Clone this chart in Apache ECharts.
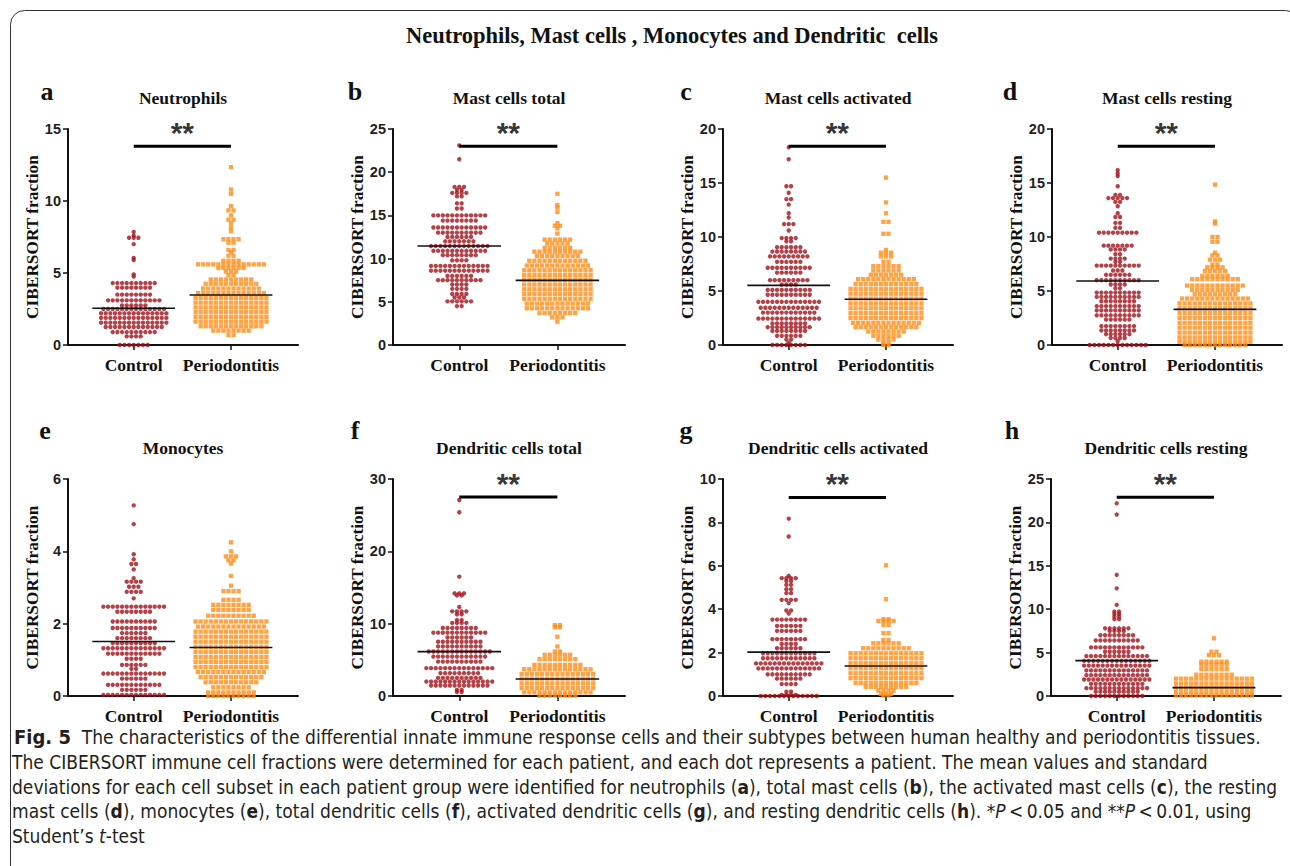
<!DOCTYPE html>
<html><head><meta charset="utf-8">
<script src="https://cdn.jsdelivr.net/npm/echarts@6.0.0/dist/echarts.min.js"></script>
<style>html,body{margin:0;padding:0;background:#fff;}#c{width:1290px;height:866px;}</style>
</head><body><div id="c"></div>
<script>
// ---------------- data ----------------
const categories = ['Control', 'Periodontitis'];
const mainTitle = 'Neutrophils, Mast cells , Monocytes and Dendritic  cells';
const panelLetters = ['a', 'b', 'c', 'd', 'e', 'f', 'g', 'h'];
const panelTitles = ['Neutrophils', 'Mast cells total', 'Mast cells activated', 'Mast cells resting',
  'Monocytes', 'Dendritic cells total', 'Dendritic cells activated', 'Dendritic cells resting'];
const yAxisName = 'CIBERSORT fraction';
const yMax = [15, 25, 20, 20, 6, 30, 10, 25];
const yStep = [5, 5, 5, 5, 2, 10, 2, 5];

// each row: [CIBERSORT fraction, number of patients at that level]
const neutrophilsControl = [[7.85,1],[7.6,1],[7.45,3],[7.0,1],[6.05,1],[5.9,1],[4.9,1],[4.75,1],[4.3,10],[3.98,8],[3.5,8],[3.1,12],[2.75,6],[2.5,14],[2.2,15],[1.88,15],[1.55,15],[1.25,13],[0.9,10],[0.6,4],[0,7]];
const neutrophilsPerio = [[12.35,1],[10.8,1],[10.5,1],[9.65,1],[9.35,2],[9.0,1],[8.7,2],[8.45,1],[8.15,1],[7.9,1],[7.35,4],[7.1,2],[6.6,2],[6.45,1],[6.2,2],[5.85,4],[5.6,14],[5.35,6],[5.1,3],[4.85,2],[4.55,9],[4.25,11],[3.92,12],[3.6,14],[3.27,15],[2.94,15],[2.61,15],[2.28,15],[1.95,15],[1.62,15],[1.3,13],[1.0,8],[0.7,2]];
const mastTotalControl = [[23.1,1],[21.5,1],[18.3,3],[17.95,2],[17.6,4],[17.2,2],[16.4,2],[15.8,2],[15.0,12],[14.4,8],[13.6,12],[13.0,10],[12.5,6],[12.0,7],[11.45,13],[10.9,12],[10.4,8],[9.8,4],[9.15,13],[8.6,13],[8.0,6],[7.5,10],[7.0,4],[6.5,4],[5.9,4],[5.5,3],[5.05,6],[4.5,2]];
const mastTotalPerio = [[17.5,1],[16.2,1],[15.9,1],[15.4,1],[14.1,1],[13.8,2],[13.5,1],[12.9,1],[12.2,6],[11.75,5],[11.25,6],[10.8,10],[10.3,9],[9.75,12],[9.2,13],[8.65,14],[8.1,14],[7.55,14],[7.0,14],[6.45,14],[5.9,14],[5.35,14],[4.8,13],[4.25,13],[3.7,8],[3.2,3],[2.7,1]];
const mastActControl = [[18.3,1],[17.2,1],[14.7,2],[14.1,1],[13.5,2],[13.0,1],[12.2,1],[11.8,1],[11.2,3],[10.6,1],[9.9,4],[9.6,2],[9.05,6],[8.65,8],[8.2,9],[7.7,6],[7.15,10],[6.7,6],[6.0,9],[5.6,4],[5.1,10],[4.65,10],[4.0,14],[3.45,13],[3.0,12],[2.45,14],[2.0,8],[1.65,10],[1.3,8],[0.85,6],[0.5,2],[0.2,1],[0,8]];
const mastActPerio = [[15.5,1],[13.2,1],[12.2,1],[11.4,2],[10.3,2],[8.8,1],[8.55,3],[8.2,3],[7.7,2],[7.3,6],[6.9,6],[6.5,7],[6.1,12],[5.65,13],[5.2,15],[4.75,15],[4.3,15],[3.85,15],[3.4,15],[2.95,15],[2.5,15],[2.05,14],[1.65,13],[1.25,8],[0.85,6],[0.5,4],[0.15,2],[0,2]];
const mastRestControl = [[16.2,1],[15.9,1],[15.65,1],[14.7,1],[13.9,2],[13.6,5],[13.25,2],[12.85,1],[12.2,1],[11.85,2],[11.3,2],[10.85,2],[10.4,9],[9.2,7],[8.85,4],[8.4,2],[8.0,4],[7.7,2],[7.35,10],[6.9,3],[6.5,6],[6.0,10],[5.6,4],[5.25,2],[4.85,10],[4.45,10],[4.05,8],[3.6,10],[3.2,10],[2.75,10],[2.35,6],[1.75,8],[1.35,8],[1.0,6],[0.65,4],[0.35,1],[0,13]];
const mastRestPerio = [[14.85,1],[11.45,1],[11.25,1],[10.0,2],[9.55,2],[8.55,1],[8.3,2],[7.9,3],[7.45,2],[7.2,4],[6.85,5],[6.4,6],[6.1,10],[5.5,12],[5.1,10],[4.7,9],[4.3,14],[3.85,15],[3.4,15],[2.95,15],[2.5,15],[2.05,15],[1.6,15],[1.15,15],[0.7,15],[0.3,15],[0,13]];
const monocytesControl = [[5.27,1],[4.75,1],[3.92,1],[3.78,1],[3.65,2],[3.5,1],[3.26,1],[3.16,4],[3.02,3],[2.88,4],[2.7,1],[2.47,14],[2.33,8],[2.06,10],[1.88,10],[1.74,6],[1.6,8],[1.46,10],[1.32,14],[1.17,12],[1.03,4],[0.86,6],[0.75,2],[0.62,14],[0.48,6],[0.31,12],[0.17,6],[0.03,14]];
const monocytesPerio = [[4.25,1],[4.0,1],[3.86,3],[3.75,2],[3.66,1],[3.32,1],[3.05,1],[2.9,4],[2.66,4],[2.52,8],[2.38,8],[2.22,10],[2.06,15],[1.92,14],[1.78,15],[1.64,15],[1.5,15],[1.36,15],[1.22,15],[1.08,15],[0.94,15],[0.8,15],[0.66,14],[0.52,13],[0.38,11],[0.24,8],[0.1,10],[0,10]];
const dcTotalControl = [[27.1,1],[25.4,1],[16.5,1],[14.2,3],[13.9,2],[12.3,1],[11.7,4],[11.3,2],[10.5,2],[10.1,4],[9.4,8],[8.75,12],[8.1,6],[7.5,10],[6.85,10],[6.15,14],[5.45,12],[4.75,10],[3.85,15],[3.15,9],[2.5,10],[2.0,15],[1.45,13],[0.85,2],[0.55,2]];
const dcTotalPerio = [[9.8,2],[9.5,2],[8.2,1],[6.85,1],[6.15,2],[5.7,6],[5.1,8],[4.3,10],[3.7,14],[3.05,15],[2.4,15],[1.75,15],[1.1,15],[0.5,14],[0.05,8]];
const dcActControl = [[8.17,1],[7.35,1],[5.54,1],[5.43,4],[5.3,2],[5.12,2],[4.92,2],[4.74,2],[4.43,4],[4.28,1],[3.94,2],[3.8,1],[3.52,8],[3.23,6],[3.0,6],[2.62,8],[2.4,4],[2.2,6],[1.97,12],[1.74,12],[1.5,15],[1.27,14],[1.0,10],[0.8,6],[0.55,4],[0.2,2],[0.05,4],[0,13]];
const dcActPerio = [[6.02,1],[4.46,1],[3.54,2],[3.46,4],[3.28,2],[2.9,2],[2.58,2],[2.43,6],[2.2,10],[1.97,15],[1.74,15],[1.51,15],[1.28,15],[1.05,15],[0.82,15],[0.6,13],[0.42,9],[0.25,4],[0.1,3],[0.02,2]];
const dcRestControl = [[22.2,1],[20.9,1],[13.96,1],[12.4,1],[10.5,1],[9.73,2],[9.46,2],[9.15,2],[8.85,2],[7.8,6],[7.5,4],[7.0,8],[6.4,10],[5.6,12],[5.1,6],[4.6,14],[4.05,15],[3.5,15],[2.95,14],[2.4,14],[1.9,15],[1.4,12],[0.9,14],[0.5,10],[0,12]];
const dcRestPerio = [[6.65,1],[5.1,2],[4.7,3],[3.95,6],[3.6,6],[3.1,6],[2.45,8],[2.0,16],[1.45,16],[0.95,16],[0.45,16],[0.05,16]];

const controlRows = [neutrophilsControl, mastTotalControl, mastActControl, mastRestControl, monocytesControl, dcTotalControl, dcActControl, dcRestControl];
const perioRows = [neutrophilsPerio, mastTotalPerio, mastActPerio, mastRestPerio, monocytesPerio, dcTotalPerio, dcActPerio, dcRestPerio];
const groupMeans = [[2.55,3.47],[11.46,7.48],[5.52,4.23],[5.93,3.3],[1.505,1.34],[6.14,2.35],[2.02,1.38],[4.08,0.96]];
const sigBarValue = [13.8, 23.0, 18.4, 18.4, null, 27.5, 9.15, 22.9];
const sigLabel = ['**', '**', '**', '**', '', '**', '**', '**'];

const captionLines = [
  '{fb|Fig. 5}  The characteristics of the differential innate immune response cells and their subtypes between human healthy and periodontitis tissues.',
  'The CIBERSORT immune cell fractions were determined for each patient, and each dot represents a patient. The mean values and standard',
  'deviations for each cell subset in each patient group were identified for neutrophils ({b|a}), total mast cells ({b|b}), the activated mast cells ({b|c}), the resting',
  'mast cells ({b|d}), monocytes ({b|e}), total dendritic cells ({b|f}), activated dendritic cells ({b|g}), and resting dendritic cells ({b|h}). *{i|P}\u2009<\u20090.05 and **{i|P}\u2009<\u20090.01, using',
  'Student\u2019s {i|t}-test'
];

// ---------------- layout ----------------
const gridBoxes = [
  [68,129,230,216],[393,129,232,216],[723,129,230,216],[1052,129,230,216],
  [68,479,230,217],[393,479,232,217],[723,479,230,217],[1051,479,230,217]
];
const X_MAX = 3.5, POS_C = 1.0, POS_P = 2.48;
const STEP_C = 0.071, STEP_P = 0.077, MEAN_HALF = 0.63;
const SERIF = '"Liberation Serif", "Times New Roman", serif';
const SANS = '"Liberation Sans", Arial, sans-serif';
const CAP = '"Liberation Sans Narrow", "DejaVu Sans Condensed", "Roboto Condensed", "Liberation Sans", sans-serif';
const RED = '#a3121a', ORANGE = '#ff8c16', INK = '#111111';

function swarm(rows, center, step) {
  const out = [];
  rows.forEach(([v, n]) => {
    for (let i = 0; i < n; i++) out.push([center + (i - (n - 1) / 2) * step, v]);
  });
  return out;
}

const grid = [], xAxis = [], yAxis = [], series = [], graphic = [];
gridBoxes.forEach((g, k) => {
  grid.push({left: g[0], top: g[1], width: g[2], height: g[3]});
  xAxis.push({
    gridIndex: k, type: 'value', min: 0, max: X_MAX,
    axisLine: {show: true, onZero: false, lineStyle: {color: INK, width: 2}},
    splitLine: {show: false},
    axisTick: {show: true, customValues: [POS_C, POS_P], length: 5, lineStyle: {color: INK, width: 1.5}},
    axisLabel: {customValues: [POS_C, POS_P], margin: 11,
      formatter: v => (Math.abs(v - POS_C) < 1e-6 ? categories[0] : categories[1]),
      fontFamily: SERIF, fontWeight: 'bold', fontSize: 17.5, color: INK}
  });
  yAxis.push({
    gridIndex: k, type: 'value', min: 0, max: yMax[k], interval: yStep[k],
    axisLine: {show: true, lineStyle: {color: INK, width: 2}},
    axisTick: {show: true, length: 5, lineStyle: {color: INK, width: 1.5}},
    splitLine: {show: false},
    axisLabel: {margin: 7, fontFamily: SANS, fontWeight: 'bold', fontSize: 14.5, color: '#1e1e1e'},
    name: yAxisName, nameLocation: 'middle', nameGap: 27,
    nameTextStyle: {fontFamily: SERIF, fontWeight: 'bold', fontSize: 17.3, color: INK}
  });
  series.push({
    type: 'scatter', xAxisIndex: k, yAxisIndex: k, symbol: 'circle', symbolSize: 4.4,
    itemStyle: {color: RED}, data: swarm(controlRows[k], POS_C, STEP_C), silent: true
  });
  series.push({
    type: 'scatter', xAxisIndex: k, yAxisIndex: k, symbol: 'rect', symbolSize: 4.3,
    itemStyle: {color: ORANGE}, data: swarm(perioRows[k], POS_P, STEP_P), silent: true
  });
  [POS_C, POS_P].forEach((c, j) => {
    series.push({
      type: 'line', xAxisIndex: k, yAxisIndex: k, symbol: 'none', silent: true, z: 5,
      lineStyle: {color: INK, width: 1.6},
      data: [[c - MEAN_HALF, groupMeans[k][j]], [c + MEAN_HALF, groupMeans[k][j]]]
    });
  });
  if (sigBarValue[k] != null) {
    series.push({
      type: 'line', xAxisIndex: k, yAxisIndex: k, symbol: 'none', silent: true, z: 5,
      lineStyle: {color: '#000', width: 3},
      data: [[POS_C, sigBarValue[k]], [POS_P, sigBarValue[k]]]
    });
    series.push({
      type: 'scatter', xAxisIndex: k, yAxisIndex: k, symbolSize: 1, silent: true,
      itemStyle: {color: 'rgba(0,0,0,0)'},
      label: {show: true, position: 'top', distance: -2, formatter: sigLabel[k],
        fontFamily: SANS, fontWeight: 'bold', fontSize: 30, color: '#000'},
      data: [[(POS_C + POS_P) / 2, sigBarValue[k]]]
    });
  }
  const cx = g[0] + g[2] / 2;
  const row = k < 4 ? 0 : 1;
  graphic.push({type: 'text', x: cx, y: row ? 448 : 98,
    style: {text: panelTitles[k], align: 'center', verticalAlign: 'middle',
      fontFamily: SERIF, fontWeight: 'bold', fontSize: 17.5, fill: INK}});
  const letterX = [47, 355, 686, 1010, 45, 355, 686, 1012][k];
  graphic.push({type: 'text', x: letterX, y: row ? 430 : 91,
    style: {text: panelLetters[k], align: 'center', verticalAlign: 'middle',
      fontFamily: SERIF, fontWeight: 'bold', fontSize: 26, fill: INK}});
});

graphic.push({type: 'rect', shape: {x: 10.5, y: 10.5, width: 1289, height: 900, r: 14},
  style: {fill: 'none', stroke: '#333', lineWidth: 1}, silent: true});
graphic.push({type: 'text', x: 672, y: 35,
  style: {text: mainTitle, align: 'center', verticalAlign: 'middle',
    fontFamily: SERIF, fontWeight: 'bold', fontSize: 22.5, fill: INK}});
const capY = [737, 762, 787, 811, 836];
captionLines.forEach((t, i) => {
  graphic.push({type: 'text', x: i === 0 ? 14 : 12, y: capY[i],
    style: {text: t, align: 'left', verticalAlign: 'middle',
      fontFamily: CAP, fontSize: 19, fill: '#231f20',
      rich: {
        fb: {fontFamily: CAP, fontWeight: 'bold', fontSize: 20, fill: '#231f20'},
        b: {fontFamily: CAP, fontWeight: 'bold', fontSize: 19, fill: '#231f20'},
        i: {fontFamily: CAP, fontStyle: 'italic', fontSize: 19, fill: '#231f20'}
      }}});
});

const chart = echarts.init(document.getElementById('c'), null, {renderer: 'svg', width: 1290, height: 866});
chart.setOption({animation: false, backgroundColor: '#fff', grid, xAxis, yAxis, series, graphic});
</script></body></html>
